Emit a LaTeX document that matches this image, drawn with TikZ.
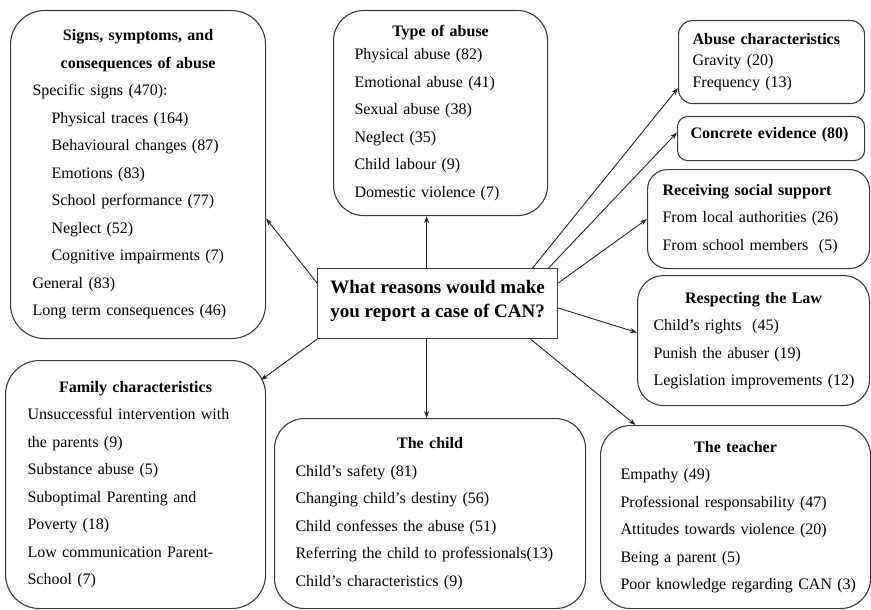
\documentclass[tikz,border=0pt]{standalone}
\usepackage{fontspec}
\setmainfont{Liberation Serif}
\usetikzlibrary{arrows.meta,positioning,calc}
\definecolor{boxline}{RGB}{60,60,60}
\newcommand{\boxtitle}[1]{\makebox[\linewidth][c]{\textbf{#1}}}
\newcommand{\ind}{\hspace*{19pt}}

\begin{document}
\begin{tikzpicture}[x=1pt,y=-1pt,
    reason/.style={draw=boxline,line width=1.1pt,anchor=north west,
      align=left,inner ysep=0pt,
      font=\fontsize{16}{27.5}\selectfont},
    link/.style={draw=black!85,line width=0.9pt,-{Stealth[length=7pt,width=5pt]}}]
  \useasboundingbox (0,0) rectangle (871,610);

  % question in the middle
  \node[draw=boxline,line width=1.2pt,anchor=north west,align=center,
        minimum width=240pt,minimum height=70pt,inner sep=0pt,
        font=\fontsize{19}{24}\selectfont\bfseries] (q) at (317,268)
    {What reasons would make\\you report a case of CAN?\\[-14pt]\mbox{}};

  % reasons
  \node[reason,rounded corners=34pt,inner xsep=22pt,text width=211pt,
        minimum height=328pt] (signs) at (10,10) {
    \boxtitle{Signs, symptoms, and}\\
    \boxtitle{consequences of abuse}\\
    Specific signs (470):\\
    \ind Physical traces (164)\\
    \ind Behavioural changes (87)\\
    \ind Emotions (83)\\
    \ind School performance (77)\\
    \ind Neglect (52)\\
    \ind Cognitive impairments (7)\\
    General (83)\\
    Long term consequences (46)};

  \node[reason,rounded corners=30pt,inner xsep=21pt,text width=172pt,
        minimum height=205pt] (type) at (333,10) {
    \boxtitle{Type of abuse}\\[-4.5pt]
    Physical abuse (82)\\
    Emotional abuse (41)\\
    Sexual abuse (38)\\
    Neglect (35)\\
    Child labour (9)\\
    Domestic violence (7)};

  \node[reason,rounded corners=14pt,inner xsep=14pt,text width=158pt,
        minimum height=83pt,font=\fontsize{16}{21.5}\selectfont] (chars) at (678,20) {
    \textbf{Abuse characteristics}\\
    Gravity (20)\\
    Frequency (13)};

  \node[reason,rounded corners=10pt,inner xsep=13pt,text width=161pt,
        minimum height=44pt] (proof) at (677,116) {
    \textbf{Concrete evidence (80)}\\[-16pt]\mbox{}};

  \node[reason,rounded corners=20pt,inner xsep=15pt,text width=192pt,
        minimum height=99pt] (support) at (647,169) {
    \textbf{Receiving social support}\\
    From local authorities (26)\\
    From school members~~(5)};

  \node[reason,rounded corners=26pt,inner xsep=16pt,text width=200pt,
        minimum height=130pt] (law) at (637,275) {
    \boxtitle{Respecting the Law}\\
    Child's rights~~(45)\\
    Punish the abuser (19)\\
    \mbox{Legislation improvements (12)}};

  \node[reason,rounded corners=34pt,inner xsep=22pt,text width=216pt,
        minimum height=248pt] (family) at (5,360) {
    \boxtitle{Family characteristics}\\
    Unsuccessful intervention with\\
    the parents (9)\\
    Substance abuse (5)\\
    Suboptimal Parenting and\\
    Poverty (18)\\
    Low communication Parent-\\
    School (7)};

  \node[reason,rounded corners=30pt,inner xsep=21pt,text width=269pt,
        minimum height=190pt] (child) at (274,418) {
    \boxtitle{The child}\\
    Child's safety (81)\\
    Changing child's destiny (56)\\
    Child confesses the abuse (51)\\
    Referring the child to professionals(13)\\
    Child's characteristics (9)};

  \node[reason,rounded corners=30pt,inner xsep=20pt,text width=230pt,
        minimum height=183pt] (teacher) at (600,425) {
    \boxtitle{The teacher}\\
    Empathy (49)\\
    Professional responsability (47)\\
    Attitudes towards violence (20)\\
    Being a parent (5)\\
    \mbox{Poor knowledge regarding CAN (3)}};

  % arrows
  \draw[link] ([yshift=-15pt]q.north west) -- ([yshift=-44pt]signs.east);
  \draw[link] ([xshift=-11pt]q.north) -- ([xshift=-11pt]q.north |- type.south);
  \draw[link] ([xshift=95pt]q.north) -- ([yshift=-26pt]chars.west);
  \draw[link] ([xshift=111pt]q.north) -- ([yshift=6pt]proof.west);
  \draw[link] ([yshift=-15pt]q.north east) -- (support.west);
  \draw[link] ([yshift=-40pt]q.north east) -- ([yshift=8pt]law.west);
  \draw[link] ([xshift=93pt]q.south) -- ([xshift=-100pt]teacher.north);
  \draw[link] ([xshift=-11pt]q.south) -- ([xshift=-11pt]q.south |- child.north);
  \draw[link] (q.south west) -- ([xshift=-5pt,yshift=-20pt]family.north east);
\end{tikzpicture}
\end{document}
